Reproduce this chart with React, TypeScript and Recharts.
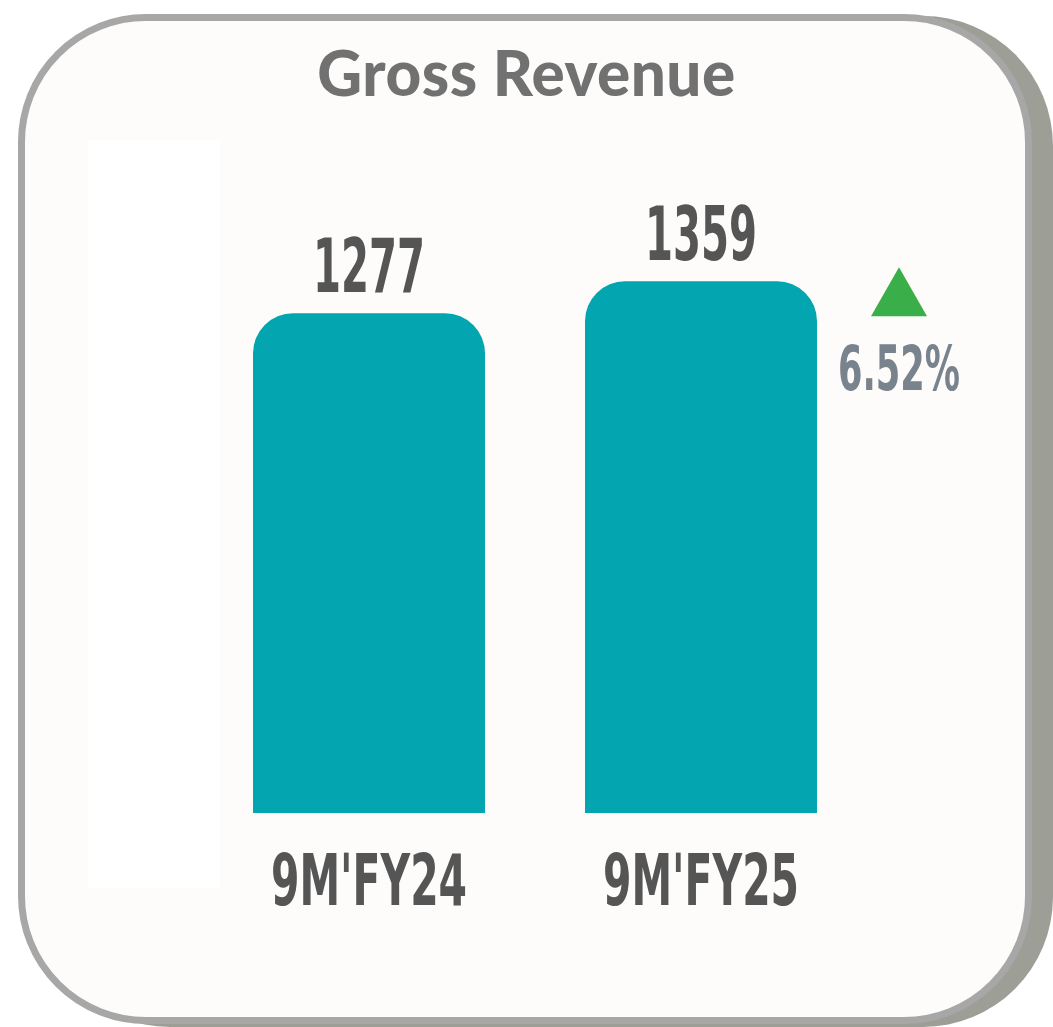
import { Bar, BarChart, LabelList, XAxis, YAxis } from 'recharts';

const periods = ["9M'FY24", "9M'FY25"];
const revenue = [1277, 1359];
const growthLabel = '6.52%';

const data = periods.map((period, i) => ({ period, revenue: revenue[i] }));

const condensed = "'Liberation Sans Narrow', 'DejaVu Sans Condensed', Roboto, sans-serif";

function ValueLabel(props: any) {
  const { x, y, width, value } = props;
  const s = String(value);
  return (
    <text
      x={x + width / 2}
      y={y - 21}
      textAnchor="middle"
      fontFamily={condensed}
      fontWeight={700}
      fontSize={74}
      fill="#555555"
      textLength={s.length * 28}
      lengthAdjust="spacingAndGlyphs"
    >
      {s}
    </text>
  );
}

function PeriodLabel(props: any) {
  const { x, y, width, height, value } = props;
  const s = String(value);
  return (
    <text
      x={x + width / 2}
      y={y + height + 92}
      textAnchor="middle"
      fontFamily={condensed}
      fontWeight={700}
      fontSize={72}
      fill="#555555"
      textLength={s.length * 28}
      lengthAdjust="spacingAndGlyphs"
    >
      {s}
    </text>
  );
}

function GrowthMark(props: any) {
  const { x, y, width, value } = props;
  if (value !== revenue[revenue.length - 1]) return null;
  const r = x + width;
  return (
    <g>
      <polygon
        points={`${r + 54},${y + 35} ${r + 110},${y + 35} ${r + 82},${y - 14}`}
        fill="#3aae48"
      />
      <text
        x={r + 82}
        y={y + 109}
        textAnchor="middle"
        fontFamily={condensed}
        fontWeight={700}
        fontSize={62}
        fill="#78838d"
        textLength={122}
        lengthAdjust="spacingAndGlyphs"
      >
        {growthLabel}
      </text>
    </g>
  );
}

export default function App() {
  return (
    <div style={{ position: 'absolute', left: 0, top: 0, width: 1053, height: 1027, background: '#ffffff' }}>
      {/* card shadow */}
      <div
        style={{
          position: 'absolute', left: 40, top: 16, width: 1013, height: 1011,
          borderRadius: 130, background: '#9d9e96',
        }}
      />
      {/* card */}
      <div
        style={{
          position: 'absolute', left: 18, top: 14, width: 1000, height: 996,
          borderRadius: 128, border: '7px solid #a7a7a7', background: '#fdfcfa',
        }}
      />
      <div style={{ position: 'absolute', left: 88, top: 140, width: 132, height: 748, background: '#ffffff' }} />
      <div
        style={{
          position: 'absolute', left: 0, top: 36, width: 1053, textAlign: 'center',
          fontFamily: 'Lato, sans-serif', fontWeight: 900, fontSize: 62, color: '#717171',
          lineHeight: '72px', letterSpacing: 0.5,
        }}
      >
        Gross Revenue
      </div>
      <div style={{ position: 'absolute', left: 0, top: 0 }}>
        <BarChart
          width={1053}
          height={1027}
          data={data}
          margin={{ top: 226, right: 186, bottom: 214, left: 203 }}
        >
          <XAxis dataKey="period" hide />
          <YAxis hide domain={[0, 1500]} />
          <Bar
            dataKey="revenue"
            fill="#02a5b0"
            barSize={232}
            radius={[40, 40, 0, 0]}
            isAnimationActive={false}
          >
            <LabelList dataKey="revenue" content={ValueLabel} />
            <LabelList dataKey="period" content={PeriodLabel} />
            <LabelList dataKey="revenue" content={GrowthMark} />
          </Bar>
        </BarChart>
      </div>
    </div>
  );
}
